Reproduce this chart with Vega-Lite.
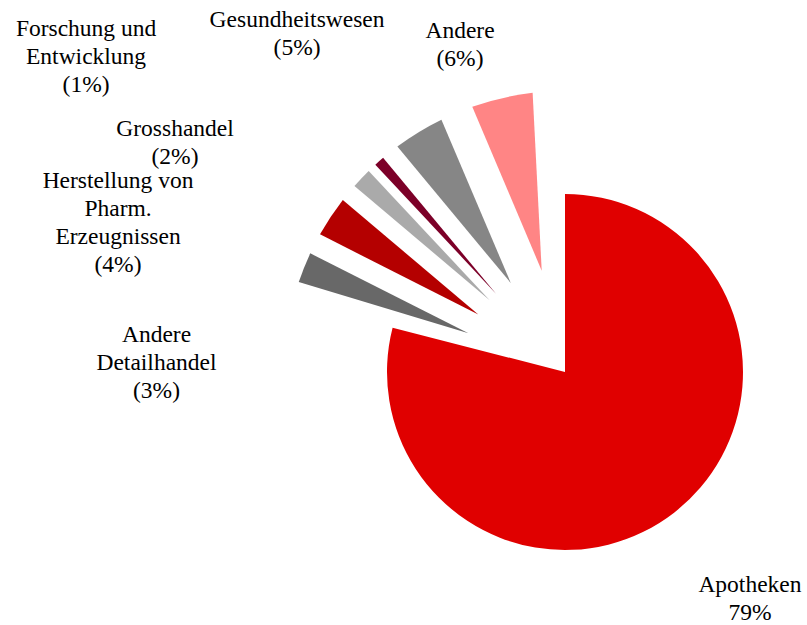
{
  "$schema": "https://vega.github.io/schema/vega-lite/v6.json",
  "width": 484,
  "height": 506,
  "autosize": {"type": "none"},
  "padding": {"left": 323, "top": 119, "right": 0, "bottom": 0},
  "background": "white",
  "config": {"view": {"stroke": null}, "text": {"font": "Liberation Serif"}},
  "data": {
    "values": [
      {"sector": "Apotheken", "share": 79, "label": "Apotheken\n79%"},
      {"sector": "Andere Detailhandel", "share": 3, "label": "Andere\nDetailhandel\n(3%)"},
      {"sector": "Herstellung von Pharm. Erzeugnissen", "share": 4, "label": "Herstellung von\nPharm.\nErzeugnissen\n(4%)"},
      {"sector": "Grosshandel", "share": 2, "label": "Grosshandel\n(2%)"},
      {"sector": "Forschung und Entwicklung", "share": 1, "label": "Forschung und\nEntwicklung\n(1%)"},
      {"sector": "Gesundheitswesen", "share": 5, "label": "Gesundheitswesen\n(5%)"},
      {"sector": "Andere", "share": 6, "label": "Andere\n(6%)"}
    ]
  },
  "transform": [{"window": [{"op": "row_number", "as": "idx"}]}],
  "layer": [
    {
      "mark": {"type": "arc", "radius": 178},
      "encoding": {
        "theta": {"field": "share", "type": "quantitative", "stack": true},
        "order": {"field": "idx", "type": "quantitative"},
        "color": {
          "field": "sector", "type": "nominal", "legend": null,
          "scale": {
            "domain": ["Apotheken", "Andere Detailhandel", "Herstellung von Pharm. Erzeugnissen", "Grosshandel", "Forschung und Entwicklung", "Gesundheitswesen", "Andere"],
            "range": ["#E00000", "#686868", "#B40000", "#AAAAAA", "#7C0028", "#868686", "#FF8585"]
          }
        },
        "opacity": {"condition": {"test": "datum.sector === 'Apotheken'", "value": 1}, "value": 0}
      }
    },
    {
      "transform": [{"filter": "datum.sector !== 'Apotheken'"}],
      "mark": {
        "type": "arc", "radius": 281, "radius2": 104,
        "padAngle": {"expr": "2*asin(104.5*sin(PI*0.93*datum.share/100)/299.63)"}
      },
      "encoding": {
        "theta": {"field": "share", "type": "quantitative", "stack": true, "scale": {"range": [5.0056, 6.2326]}},
        "order": {"field": "idx", "type": "quantitative"},
        "color": {"field": "sector", "type": "nominal", "legend": null}
      }
    },
    {
      "mark": {"type": "text", "align": "center", "baseline": "middle", "fontSize": 23.5, "lineBreak": "\n", "lineHeight": 28, "color": "black"},
      "encoding": {
        "theta": {"field": "share", "type": "quantitative", "stack": true, "scale": {"domain": [39.5, 80.5, 84, 87, 88.5, 91.5, 97], "range": [2.426, 4.8035, 5.1163, 5.2697, 5.3339, 5.6329, 5.9842]}},
        "radius": {"field": "share", "type": "quantitative", "scale": {"type": "linear", "domain": [1, 2, 3, 4, 5, 6, 79], "range": [589.1, 459.5, 410.2, 486.1, 442.6, 356.5, 281.9]}},
        "order": {"field": "idx", "type": "quantitative"},
        "detail": {"field": "sector", "type": "nominal"},
        "text": {"field": "label", "type": "nominal"}
      }
    }
  ],
  "resolve": {"scale": {"theta": "independent", "radius": "independent"}}
}
